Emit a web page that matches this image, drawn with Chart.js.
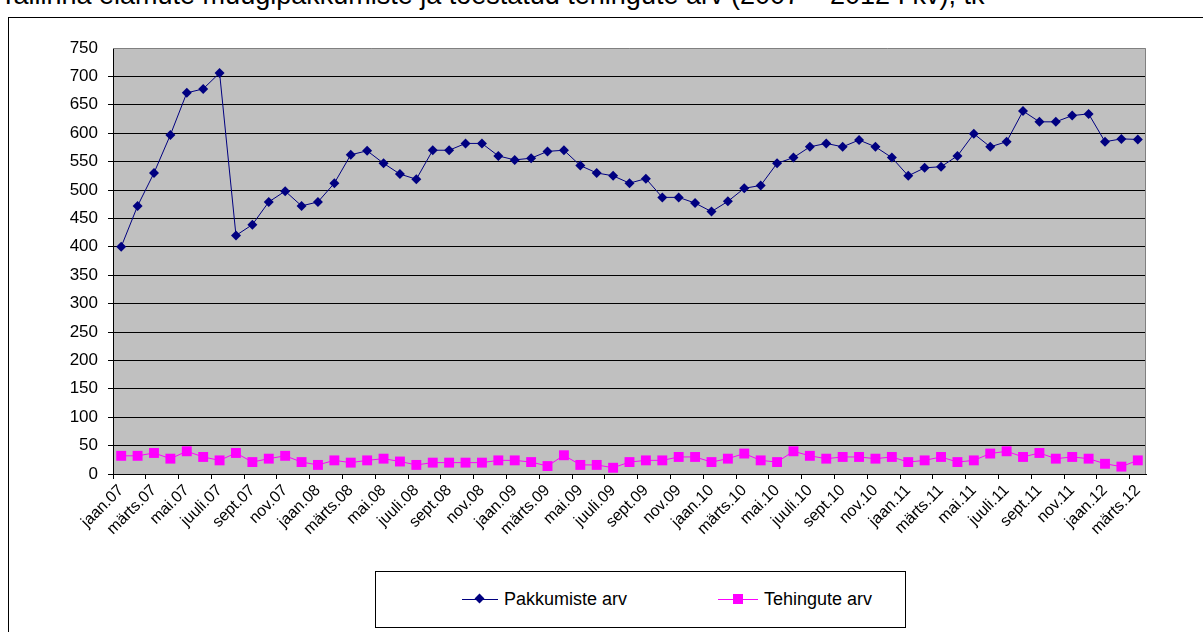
<!DOCTYPE html>
<html>
<head>
<meta charset="utf-8">
<script src="https://cdn.jsdelivr.net/npm/chart.js@4/dist/chart.umd.min.js"></script>
<style>
  body { margin: 0; width: 1203px; height: 632px; overflow: hidden; background: #fff; font-family: "Liberation Sans", Arial, sans-serif; position: relative; }
  #title { position: absolute; left: 0; top: -18px; font-size: 27px; line-height: 27px; white-space: nowrap; color: #000; }
  #frame { position: absolute; left: 8px; top: 17px; width: 1300px; height: 700px; border: 1px solid #000; }
  #wrap { position: absolute; left: 0; top: 0; width: 1203px; height: 632px; }
  #legend { position: absolute; left: 375px; top: 571px; width: 529px; height: 55px; border: 1px solid #000; background: #fff; font-size: 18px; }
  .item { position: absolute; top: 17px; height: 20px; line-height: 20px; }
  .ln { position: absolute; top: 10px; height: 1px; width: 36px; left: 0; }
  .mk { position: absolute; }
  .txt { position: absolute; left: 42px; top: 0; white-space: nowrap; }
</style>
</head>
<body>
<div id="title">Tallinna elamute müügipakkumiste ja tõestatud tehingute arv (2007 – 2012 I kv), tk</div>
<div id="frame"></div>
<div id="wrap"><canvas id="graafik"></canvas></div>
<div id="legend">
  <div class="item" style="left:86px">
    <div class="ln" style="background:#000080"></div>
    <div class="mk" style="left:14px;top:6px;width:7px;height:7px;background:#000080;transform:rotate(45deg)"></div>
    <div class="txt">Pakkumiste arv</div>
  </div>
  <div class="item" style="left:342px">
    <div class="ln" style="background:#ff00ff;width:40px"></div>
    <div class="mk" style="left:15px;top:5px;width:10px;height:10px;background:#ff00ff"></div>
    <div class="txt" style="left:46px">Tehingute arv</div>
  </div>
</div>
<script>
const kuud = ['jaan', 'veebr', 'märts', 'apr', 'mai', 'juuni', 'juuli', 'aug', 'sept', 'okt', 'nov', 'dets'];
const aastad = ['07', '08', '09', '10', '11', '12'];

const sildid = [];
aastad.forEach(a => kuud.forEach(k => sildid.push(k + '.' + a)));
sildid.length = 63; // jaan.07 ... märts.12

const pakkumised = [
  400, 472, 530, 597, 671, 678, 706, 420, 439, 479, 498, 472,
  479, 512, 562, 569, 547, 528, 519, 570, 570, 582, 582, 560,
  553, 556, 568, 570, 543, 530, 525, 512, 520, 487, 487, 477,
  462, 480, 503, 508, 547, 557, 576, 582, 576, 588, 576, 557,
  525, 539, 541, 560, 599, 576, 585, 639, 620, 620, 631, 634,
  585, 590, 589
];

const tehingud = [
  32, 32, 37, 27, 40, 30, 24, 37, 21, 27, 32, 21,
  16, 24, 20, 24, 27, 22, 16, 20, 20, 20, 20, 24,
  24, 21, 14, 33, 16, 16, 11, 21, 24, 24, 30, 30,
  21, 27, 36, 24, 21, 40, 32, 27, 30, 30, 27, 30,
  21, 24, 30, 21, 24, 36, 40, 30, 37, 27, 30, 27,
  18, 13, 24
];

const taust = {
  id: 'taust',
  beforeDraw(c) {
    const a = c.chartArea, ctx = c.ctx;
    ctx.save();
    ctx.fillStyle = '#c0c0c0';
    ctx.fillRect(a.left, a.top, a.right - a.left, a.bottom - a.top);
    ctx.restore();
  },
  afterDraw(c) {
    const a = c.chartArea, ctx = c.ctx;
    ctx.save();
    ctx.strokeStyle = '#808080';
    ctx.lineWidth = 1;
    ctx.beginPath();
    ctx.moveTo(a.left, a.top + 0.5);
    ctx.lineTo(a.right - 0.5, a.top + 0.5);
    ctx.lineTo(a.right - 0.5, a.bottom);
    ctx.stroke();
    ctx.restore();
  }
};

new Chart(document.getElementById('graafik'), {
  type: 'line',
  data: {
    labels: sildid,
    datasets: [{
      label: 'Pakkumiste arv',
      data: pakkumised,
      borderColor: '#000080',
      backgroundColor: '#000080',
      borderWidth: 1,
      pointStyle: 'rectRot',
      pointRadius: 5,
      pointBorderWidth: 0,
      tension: 0
    }, {
      label: 'Tehingute arv',
      data: tehingud,
      borderColor: '#ff00ff',
      backgroundColor: '#ff00ff',
      borderWidth: 1,
      pointStyle: 'rect',
      pointRadius: 7,
      pointBorderWidth: 0,
      tension: 0
    }]
  },
  options: {
    responsive: true,
    maintainAspectRatio: false,
    animation: false,
    layout: { padding: { left: 0, top: 48, right: 57, bottom: 48 } },
    plugins: {
      legend: { display: false },
      tooltip: { enabled: false }
    },
    scales: {
      x: {
        offset: true,
        afterFit: s => { s.height = 110; },
        grid: {
          offset: true,
          drawOnChartArea: false,
          tickLength: 5,
          color: ctx => (ctx.index % 2 === 0 ? '#000' : 'rgba(0,0,0,0)')
        },
        border: { color: '#000', width: 1 },
        ticks: {
          autoSkip: false,
          maxRotation: 45,
          minRotation: 45,
          padding: 2,
          color: '#000',
          font: { family: 'Liberation Sans', size: 16 },
          callback: (v, i) => (i % 2 === 0 ? sildid[i] : '')
        }
      },
      y: {
        min: 0,
        max: 750,
        afterFit: s => { s.width = 113; },
        grid: {
          color: ctx => (ctx.tick && ctx.tick.value === 750 ? 'rgba(0,0,0,0)' : '#000'),
          tickLength: 5,
          lineWidth: 1
        },
        border: { color: '#000', width: 1 },
        ticks: {
          stepSize: 50,
          padding: 10,
          color: '#000',
          font: { family: 'Liberation Sans', size: 17 }
        }
      }
    }
  },
  plugins: [taust]
});
</script>
</body>
</html>
